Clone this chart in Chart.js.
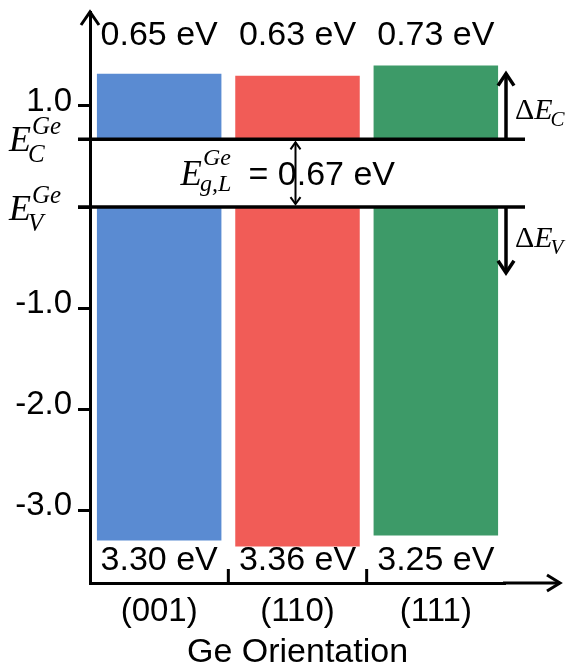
<!DOCTYPE html>
<html>
<head>
<meta charset="utf-8">
<script src="https://cdn.jsdelivr.net/npm/chart.js@4/dist/chart.umd.min.js"></script>
<style>
  html, body { margin: 0; padding: 0; background: #fff; }
  #wrap { width: 574px; height: 668px; }
</style>
</head>
<body>
<div id="wrap"><canvas id="c" width="574" height="668"></canvas></div>
<script>
// Band offsets of the oxide relative to Ge, per Ge surface orientation
const orientations = ['(001)', '(110)', '(111)'];
const conductionOffsets = [0.65, 0.63, 0.73]; // ΔE_C, eV above Ge E_C
const valenceOffsets = [3.30, 3.36, 3.25];    // ΔE_V, eV below Ge E_V
const geBandGap = 0.67;                        // Ge L-valley gap, eV
const barColors = ['#5A8BD2', '#F15C57', '#3D9A68'];
const yTickValues = [1.0, geBandGap, 0, -1.0, -2.0, -3.0];
const yTickLabels = ['1.0', '', '', '-1.0', '-2.0', '-3.0'];
const deltaArrowSpan = 0.65; // length of the ΔE_C / ΔE_V key arrows, eV

const SANS = '"Liberation Sans", Arial, sans-serif';
const SERIF = '"Liberation Serif", "Times New Roman", serif';

const conductionBars = orientations.map((_, i) => [geBandGap, geBandGap + conductionOffsets[i]]);
const valenceBars = orientations.map((_, i) => [-valenceOffsets[i], 0]);

function chevron(ctx, x, y, dir, half, len) {
  // dir: 'up' | 'down' | 'right'
  ctx.beginPath();
  if (dir === 'up') { ctx.moveTo(x - half, y + len); ctx.lineTo(x, y); ctx.lineTo(x + half, y + len); }
  else if (dir === 'down') { ctx.moveTo(x - half, y - len); ctx.lineTo(x, y); ctx.lineTo(x + half, y - len); }
  else { ctx.moveTo(x - len, y - half); ctx.lineTo(x, y); ctx.lineTo(x - len, y + half); }
  ctx.stroke();
}

function symbol(ctx, x, baseY, o) {
  let cx = x;
  ctx.textAlign = 'left';
  ctx.textBaseline = 'alphabetic';
  if (o.prefix) {
    ctx.font = `${o.size}px ${SERIF}`;
    ctx.fillText(o.prefix, cx, baseY);
    cx += ctx.measureText(o.prefix).width;
  }
  ctx.font = `italic ${o.size}px ${SERIF}`;
  ctx.fillText(o.main, cx, baseY);
  cx += ctx.measureText(o.main).width;
  ctx.font = `italic ${o.small}px ${SERIF}`;
  let w = 0;
  if (o.sup) { ctx.fillText(o.sup, cx + 1, baseY + o.supShift); w = ctx.measureText(o.sup).width + 1; }
  if (o.sub) { ctx.fillText(o.sub, cx - (o.subKern || 0), baseY + o.subShift); w = Math.max(w, ctx.measureText(o.sub).width - (o.subKern || 0)); }
  return cx + w;
}

const bandDiagram = {
  id: 'bandDiagram',
  afterDatasetsDraw(chart) {
    const { ctx, chartArea: a, scales: { x, y } } = chart;
    const yC = y.getPixelForValue(geBandGap);
    const yV = y.getPixelForValue(0);
    ctx.save();
    ctx.strokeStyle = '#000';
    ctx.fillStyle = '#000';
    ctx.lineCap = 'butt';

    // Ge band edges
    ctx.lineWidth = 3.5;
    [yC, yV].forEach(py => {
      ctx.beginPath(); ctx.moveTo(a.left - 12, py); ctx.lineTo(a.right + 20, py); ctx.stroke();
    });

    // axis arrows
    ctx.lineWidth = 3;
    chevron(ctx, a.left, a.top, 'up', 9, 13);
    ctx.beginPath(); ctx.moveTo(a.right - 2, a.bottom); ctx.lineTo(a.right + 55, a.bottom); ctx.stroke();
    chevron(ctx, a.right + 55, a.bottom, 'right', 8, 13);

    // category separators on the x axis
    for (let i = 0; i < orientations.length - 1; i++) {
      const px = (x.getPixelForValue(i) + x.getPixelForValue(i + 1)) / 2;
      ctx.beginPath(); ctx.moveTo(px, a.bottom); ctx.lineTo(px, a.bottom - 14); ctx.stroke();
    }

    // offset values
    ctx.font = `34px ${SANS}`;
    ctx.textAlign = 'center';
    ctx.textBaseline = 'middle';
    orientations.forEach((_, i) => {
      const px = x.getPixelForValue(i);
      ctx.fillText(conductionOffsets[i].toFixed(2) + ' eV', px, a.top + 24);
      ctx.fillText(valenceOffsets[i].toFixed(2) + ' eV', px, a.bottom - 22);
    });

    // band-edge labels on the energy axis
    symbol(ctx, 9, yC + 12, { main: 'E', sup: 'Ge', sub: 'C', size: 36, small: 25, supShift: -17, subShift: 11, subKern: 3 });
    symbol(ctx, 9, yV + 13, { main: 'E', sup: 'Ge', sub: 'V', size: 36, small: 25, supShift: -17, subShift: 11, subKern: 3 });

    // Ge gap: double arrow and label
    const gx = x.getPixelForValue(1) - 2;
    ctx.lineWidth = 2;
    ctx.beginPath(); ctx.moveTo(gx, yC + 3); ctx.lineTo(gx, yV - 3); ctx.stroke();
    chevron(ctx, gx, yC + 3, 'up', 5, 7);
    chevron(ctx, gx, yV - 3, 'down', 5, 7);
    const gMid = (yC + yV) / 2;
    symbol(ctx, gx - 115, gMid + 12, { main: 'E', sup: 'Ge', sub: 'g,L', size: 35, small: 24, supShift: -20, subShift: 6, subKern: 2 });
    ctx.font = `34px ${SANS}`;
    ctx.textAlign = 'left';
    ctx.textBaseline = 'alphabetic';
    ctx.fillText('= 0.67 eV', gx - 47, gMid + 12);

    // ΔE_C / ΔE_V key arrows
    const kx = a.right + 1;
    ctx.lineWidth = 3.5;
    const upTip = y.getPixelForValue(geBandGap + deltaArrowSpan);
    const downTip = y.getPixelForValue(-deltaArrowSpan);
    ctx.beginPath(); ctx.moveTo(kx, yC); ctx.lineTo(kx, upTip); ctx.stroke();
    chevron(ctx, kx, upTip, 'up', 8, 12);
    ctx.beginPath(); ctx.moveTo(kx, yV); ctx.lineTo(kx, downTip); ctx.stroke();
    chevron(ctx, kx, downTip, 'down', 8, 12);
    symbol(ctx, kx + 9, yC - 20, { prefix: 'Δ', main: 'E', sub: 'C', size: 30, small: 21, subShift: 7, subKern: 2 });
    symbol(ctx, kx + 9, yV + 40, { prefix: 'Δ', main: 'E', sub: 'V', size: 30, small: 21, subShift: 7, subKern: 2 });

    ctx.restore();
  }
};

new Chart(document.getElementById('c'), {
  type: 'bar',
  data: {
    labels: orientations,
    datasets: [
      { label: 'conduction', data: conductionBars, backgroundColor: barColors },
      { label: 'valence', data: valenceBars, backgroundColor: barColors }
    ]
  },
  options: {
    responsive: false,
    animation: false,
    devicePixelRatio: 1,
    grouped: false,
    barPercentage: 0.9,
    categoryPercentage: 1.0,
    borderSkipped: false,
    layout: { padding: { top: 12, right: 69, left: 0, bottom: 0 } },
    plugins: { legend: { display: false }, tooltip: { enabled: false } },
    scales: {
      x: {
        type: 'category',
        offset: true,
        grid: { display: false },
        border: { display: true, color: '#000', width: 3 },
        ticks: { color: '#000', padding: 1, font: { family: SANS, size: 33 } },
        title: {
          display: true, text: 'Ge Orientation', color: '#000',
          font: { family: SANS, size: 34, lineHeight: 0.9 }, padding: { top: 0, bottom: 0 }
        },
        afterFit(s) { s.height = 85; s.paddingLeft = 0; s.paddingRight = 0; }
      },
      y: {
        type: 'linear',
        min: -3.72,
        max: 1.93,
        afterBuildTicks(s) { s.ticks = yTickValues.map(v => ({ value: v })); },
        ticks: {
          color: '#000', padding: 6, labelOffset: -4, autoSkip: false,
          font: { family: SANS, size: 33 },
          callback: v => yTickLabels[yTickValues.indexOf(v)]
        },
        grid: { drawOnChartArea: false, drawTicks: true, tickLength: 12, tickWidth: 3, tickColor: '#000' },
        border: { display: true, color: '#000', width: 3 },
        afterFit(s) { s.width = 90; s.paddingTop = 0; s.paddingBottom = 0; }
      }
    }
  },
  plugins: [bandDiagram]
});
</script>
</body>
</html>
